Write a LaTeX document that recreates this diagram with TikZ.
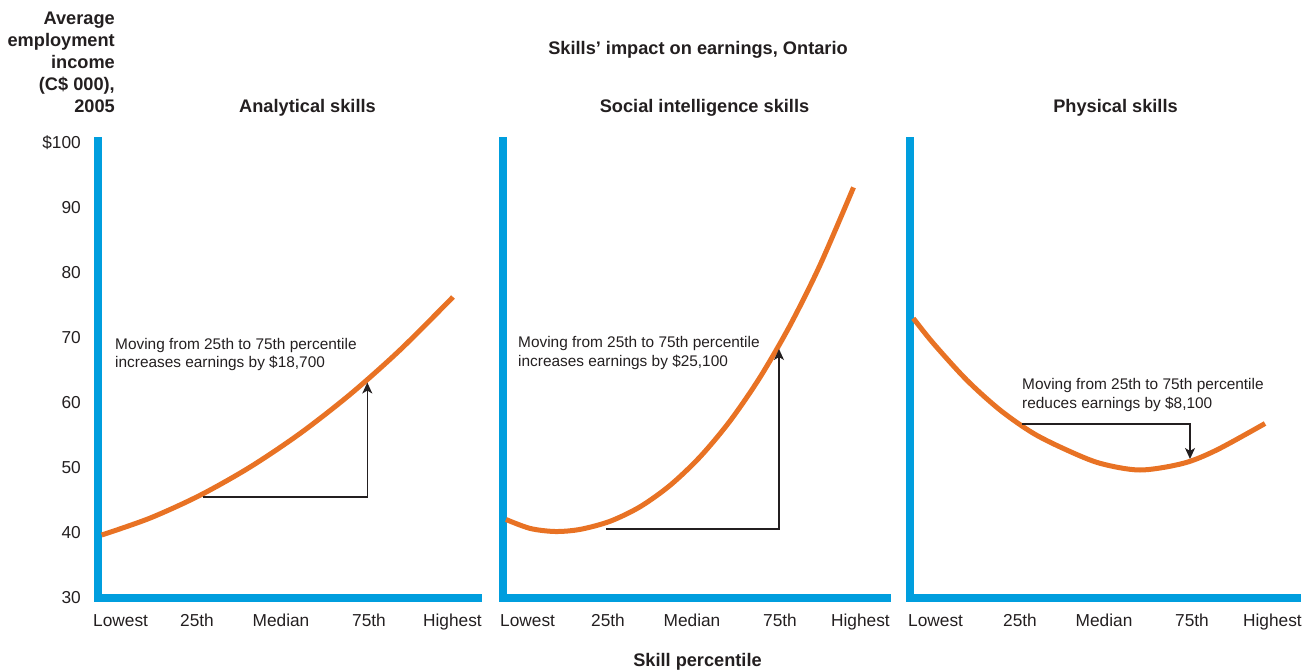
\documentclass[tikz,border=0pt]{standalone}
\usepackage{fontspec}
\setmainfont{Liberation Sans}
\usepackage{xcolor}
\definecolor{Blue}{RGB}{0,158,222}
\definecolor{Orange}{RGB}{232,114,36}
\definecolor{Ink}{RGB}{35,31,32}
\newcommand{\moving}{Moving from 25th to 75th percentile}
\usetikzlibrary{arrows.meta}

\begin{document}
\begin{tikzpicture}[x=1pt, y=-1pt,
		axis/.style={draw=Blue, line width=8pt, line join=miter},
		curve/.style={draw=Orange, line width=5pt},
		jump/.style={draw=Ink, line width=1.4pt, -{Stealth[length=11pt, width=10pt, inset=3pt]}},
		ticky/.style={anchor=base east, inner sep=0pt, text=Ink, font=\fontsize{17.3}{20}\selectfont},
		tickx/.style={anchor=base, inner sep=0pt, text=Ink, font=\fontsize{17.3}{20}\selectfont},
		note/.style={anchor=west, align=left, inner sep=0pt, text=Ink, font=\fontsize{15.4}{18.5}\selectfont},
		heading/.style={anchor=base, inner sep=0pt, text=Ink, font=\bfseries\fontsize{18.2}{22}\selectfont}]
		
		\useasboundingbox (0,0) rectangle (1303,669);
		
		% Axes
		\draw [axis] (98,137) -- (98,597.5) -- (482,597.5);
		\draw [axis] (502.5,137) -- (502.5,597.5) -- (890.5,597.5);
		\draw [axis] (909.5,137) -- (909.5,597.5) -- (1301,597.5);
		
		% Curves
		\draw [curve] plot[smooth] coordinates {(101.7,535) (150,518.1) (200,495.3) (250,467.1) (300,433.5) (350,394.5) (400,350) (453,297)};
		\draw [curve] plot[smooth] coordinates {(506,519.5) (530,528.4) (555,531.5) (580,529.4) (610,521.3) (640,506.8) (670,485.4) (700,456.9) (730,421) (760,377.3) (790,325.4) (820,265.1) (853.5,187.4)};
		\draw [curve] plot[smooth] coordinates {(913.3,318.3) (933.3,343.3) (966.7,380) (1000,410) (1033.3,433.3) (1066.7,450) (1100,463.3) (1140,470) (1183.3,463.3) (1216.7,450) (1265,423.5)};
		
		% Changes
		\coordinate (a25) at (203,497);
		\coordinate (a75) at (367.3,382.5);
		\coordinate (s25) at (606,529);
		\coordinate (s75) at (779,349);
		\coordinate (p25) at (1022,424);
		\coordinate (p75) at (1190,459);
		\draw [jump] (a25) -| (a75);
		\draw [jump] (s25) -| (s75);
		\draw [jump] (p25) -| (p75);
		
		\node [note] (na) at (115,354.5) {\moving\\increases earnings by \$18,700};
		\node [note] (ns) at (518,352.8) {\moving\\increases earnings by \$25,100};
		\node [note] (np) at (1022,394.8) {\moving\\reduces earnings by \$8,100};
		
		% Titles
		\node [heading] (top) at (698,55) {Skills’ impact on earnings, Ontario};
		\node [heading] (ta) at (307.5,112) {Analytical skills};
		\node [heading] (ts) at (704.5,112) {Social intelligence skills};
		\node [heading] (tp) at (1115.5,112) {Physical skills};
		\node [heading] (xlab) at (697.5,666) {Skill percentile};
		\node [anchor=east, align=right, inner sep=0pt, text=Ink, font=\bfseries\fontsize{18.2}{22}\selectfont] (ylab) at (115,62) {Average\\employment\\income\\(C\$ 000),\\2005};
		
		% Income values
		\node [ticky] (y100) at (81,148) {\$100};
		\node [ticky] (y90) at (81,213) {90};
		\node [ticky] (y80) at (81,278) {80};
		\node [ticky] (y70) at (81,343) {70};
		\node [ticky] (y60) at (81,408) {60};
		\node [ticky] (y50) at (81,473) {50};
		\node [ticky] (y40) at (81,538) {40};
		\node [ticky] (y30) at (81,603) {30};
		
		% Percentiles
		\node [tickx, anchor=base west] (a0) at (93,626) {Lowest};
		\node [tickx] (a1) at (197,626) {25th};
		\node [tickx] (a2) at (281,626) {Median};
		\node [tickx] (a3) at (369,626) {75th};
		\node [tickx, anchor=base east] (a4) at (482,626) {Highest};
		
		\node [tickx, anchor=base west] (s0) at (500,626) {Lowest};
		\node [tickx] (s1) at (608,626) {25th};
		\node [tickx] (s2) at (692,626) {Median};
		\node [tickx] (s3) at (780,626) {75th};
		\node [tickx, anchor=base east] (s4) at (890,626) {Highest};
		
		\node [tickx, anchor=base west] (p0) at (908,626) {Lowest};
		\node [tickx] (p1) at (1020,626) {25th};
		\node [tickx] (p2) at (1104,626) {Median};
		\node [tickx] (p3) at (1192,626) {75th};
		\node [tickx, anchor=base east] (p4) at (1302,626) {Highest};
		
	\end{tikzpicture}
\end{document}
